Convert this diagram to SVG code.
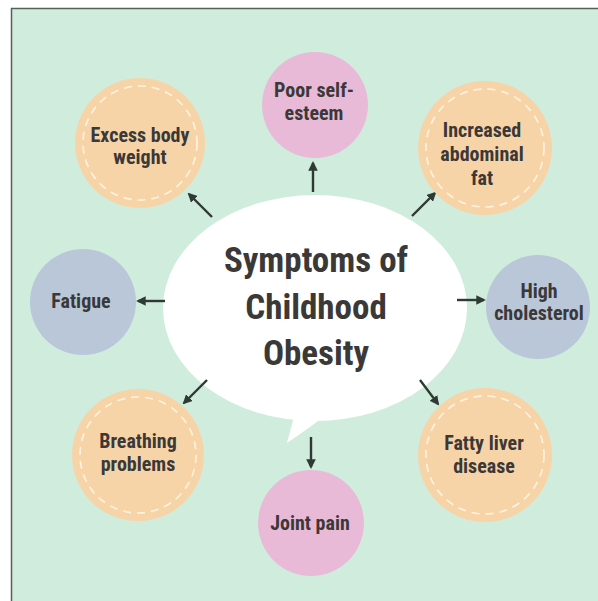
<svg xmlns="http://www.w3.org/2000/svg" width="598" height="601" viewBox="0 0 598 601">
<defs>
<style>
.bg{fill:#d0ecdd}
.orange{fill:#f7d4a8}
.pink{fill:#e9bad7}
.blue{fill:#b9c7d9}
.dash{fill:none;stroke:#fff3e0;stroke-width:1.6;stroke-dasharray:8 6}
.t{font-family:"Liberation Sans Narrow","Roboto Condensed","Open Sans",sans-serif;font-weight:700;fill:#3b3838;text-anchor:middle;font-size:20px}
.title{font-family:"Liberation Sans Narrow","Roboto Condensed","Open Sans",sans-serif;font-weight:700;fill:#3b3838;text-anchor:middle;font-size:35px}
.arr{stroke:#2e3a33;stroke-width:2.4;fill:none;marker-end:url(#ah)}
</style>
<marker id="ah" viewBox="0 0 10 10" refX="8" refY="5" markerWidth="4" markerHeight="4" orient="auto" markerUnits="strokeWidth">
<path d="M0,0 L10,5 L0,10 Z" fill="#2e3a33"/>
</marker>
</defs>
<rect x="0" y="0" width="598" height="601" fill="#ffffff"/>
<rect x="11" y="8" width="587" height="593" class="bg"/>
<line x1="11" y1="8.5" x2="598" y2="8.5" stroke="#55605a" stroke-width="1.5"/>
<line x1="11.5" y1="8" x2="11.5" y2="601" stroke="#55605a" stroke-width="1.5"/>

<g id="center">
<ellipse cx="315" cy="308" rx="152" ry="113" fill="#ffffff"/>
<path d="M297,405 L287,443 Q312,426 330,412 Z" fill="#ffffff"/>
<text class="title" x="316" y="272">Symptoms of</text>
<text class="title" x="316" y="319">Childhood</text>
<text class="title" x="316" y="365">Obesity</text>
</g>

<g id="connectors">
<line class="arr" x1="313" y1="192" x2="313" y2="163"/>
<line class="arr" x1="212" y1="217" x2="189" y2="194"/>
<line class="arr" x1="412" y1="216" x2="435" y2="193"/>
<line class="arr" x1="165" y1="301" x2="138" y2="301"/>
<line class="arr" x1="457" y1="300" x2="484" y2="300"/>
<line class="arr" x1="207" y1="380" x2="184" y2="403"/>
<line class="arr" x1="420" y1="380" x2="438" y2="404"/>
<line class="arr" x1="311" y1="437" x2="311" y2="467"/>
</g>

<g id="excess-body-weight">
<circle cx="140" cy="143" r="65" class="orange"/>
<circle cx="140" cy="143" r="57" class="dash"/>
<text class="t" x="140" y="142">Excess body</text>
<text class="t" x="140" y="164">weight</text>
</g>

<g id="poor-self-esteem">
<circle cx="315" cy="105" r="53" class="pink"/>
<text class="t" x="314" y="97">Poor self-</text>
<text class="t" x="314" y="120">esteem</text>
</g>

<g id="increased-abdominal-fat">
<circle cx="485" cy="148" r="67" class="orange"/>
<circle cx="485" cy="148" r="59" class="dash"/>
<text class="t" x="482" y="137">Increased</text>
<text class="t" x="482" y="161">abdominal</text>
<text class="t" x="482" y="185">fat</text>
</g>

<g id="fatigue">
<circle cx="83" cy="302" r="53" class="blue"/>
<text class="t" x="81" y="308">Fatigue</text>
</g>

<g id="high-cholesterol">
<circle cx="538" cy="307" r="52" class="blue"/>
<text class="t" x="539" y="298">High</text>
<text class="t" x="539" y="320">cholesterol</text>
</g>

<g id="breathing-problems">
<circle cx="138" cy="455" r="66" class="orange"/>
<circle cx="138" cy="455" r="58" class="dash"/>
<text class="t" x="138" y="448">Breathing</text>
<text class="t" x="138" y="471">problems</text>
</g>

<g id="fatty-liver-disease">
<circle cx="485" cy="455" r="67" class="orange"/>
<circle cx="485" cy="455" r="59" class="dash"/>
<text class="t" x="484" y="450">Fatty liver</text>
<text class="t" x="484" y="473">disease</text>
</g>

<g id="joint-pain">
<circle cx="311" cy="523" r="53" class="pink"/>
<text class="t" x="310" y="530">Joint pain</text>
</g>
</svg>
